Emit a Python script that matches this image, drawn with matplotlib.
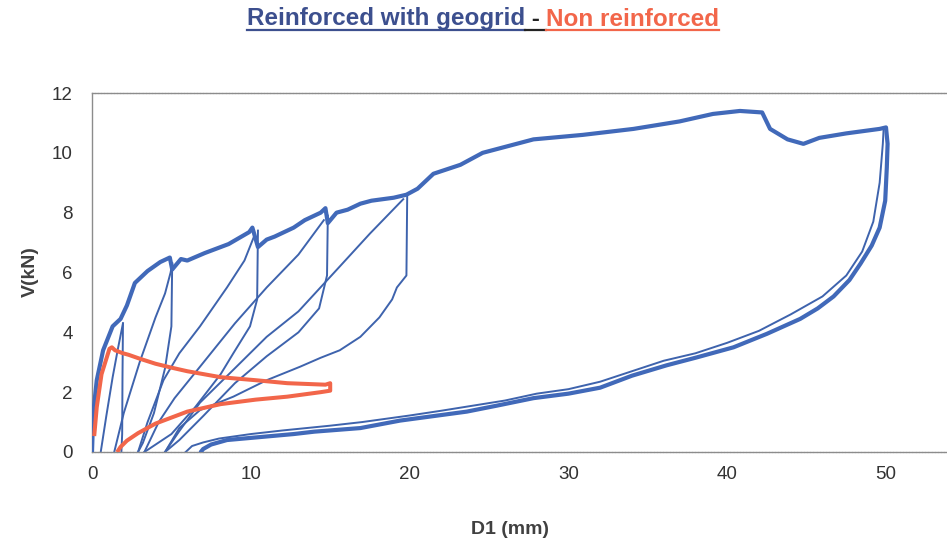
"""Cyclic load test: V (kN) vs D1 (mm), geogrid-reinforced vs non reinforced."""
import matplotlib
matplotlib.use("Agg")
import matplotlib.pyplot as plt
from matplotlib.lines import Line2D

# --- data ------------------------------------------------------------------------------------
# thick blue: monotonic envelope up to ~50 mm followed by the last unloading branch
env_d = [0, 0.08, 0.3, 0.7, 1.0, 1.3, 1.8, 2.2, 2.7, 3.5, 4.3, 4.9, 5.05, 5.6, 6.0, 7.1, 8.6,
         9.9, 10.1, 10.45, 11.0, 11.5, 12.7, 13.4, 14.4, 14.7, 14.85, 15.4, 16.1, 16.9, 17.6,
         19.0, 19.8, 20.5, 21.5, 23.2, 24.6, 27.8, 30.9, 34.1, 37.0, 39.1, 40.8, 42.2, 42.7,
         43.8, 44.8, 45.8, 47.5, 49.6, 50.0,
         50.1, 50.05, 49.95, 49.6, 49.1, 48.4, 47.7, 46.7, 45.7, 44.6, 42.5, 40.4, 38.0, 36.2,
         34.0, 32.0, 30.0, 27.8, 25.5, 23.6, 21.5, 19.4, 16.9, 14.0, 12.7, 10.6, 8.5, 7.5,
         7.0, 6.85]
env_v = [0, 1.3, 2.4, 3.4, 3.8, 4.2, 4.45, 4.9, 5.65, 6.05, 6.35, 6.5, 6.1, 6.45, 6.4, 6.65, 6.95,
         7.35, 7.5, 6.85, 7.1, 7.2, 7.5, 7.75, 8.0, 8.15, 7.65, 8.0, 8.1, 8.3, 8.4,
         8.5, 8.6, 8.8, 9.3, 9.6, 10.0, 10.45, 10.6, 10.8, 11.05, 11.3, 11.4, 11.35, 10.8,
         10.45, 10.3, 10.5, 10.65, 10.8, 10.85,
         10.3, 9.5, 8.4, 7.5, 6.9, 6.3, 5.75, 5.2, 4.8, 4.45, 3.95, 3.5, 3.15, 2.9,
         2.55, 2.15, 1.95, 1.8, 1.55, 1.35, 1.2, 1.05, 0.8, 0.68, 0.6, 0.5, 0.4, 0.25,
         0.1, 0]

# thin blue: unloading / reloading branches of the intermediate cycles
cyc_d = [
    [0.55, 0.9, 1.3, 1.65, 1.95],                                     # reload to cycle 1
    [1.95, 1.92, 1.9, 1.85],                                          # unload cycle 1
    [1.4, 2.0, 3.0, 4.0, 4.6, 4.95, 5.05],                            # reload to cycle 2
    [5.05, 5.0, 4.6, 3.9, 3.2, 2.9],                                  # unload cycle 2
    [2.9, 3.5, 4.5, 5.5, 6.8, 8.5, 9.6, 10.2],                        # reload to cycle 3
    [10.45, 10.4, 9.95, 8.9, 8.1, 6.5, 5.0, 3.3],                     # unload cycle 3
    [3.3, 4.2, 5.2, 6.8, 9.0, 11.0, 13.0, 14.6],                      # reload to cycle 4
    [14.85, 14.8, 14.3, 13.0, 11.0, 9.0, 7.0, 5.5, 4.6],              # unload cycle 4
    [4.6, 5.5, 6.8, 9.0, 11.0, 13.0, 15.6, 17.5, 19.6],               # reload to cycle 5
    [19.85, 19.8, 19.2, 18.9, 18.1, 16.9, 15.6, 14.4, 13.1, 11.0,
     8.9, 6.8, 5.5, 4.6],                                             # unload cycle 5
    [5.9, 6.3, 7.0, 8.0, 10.0, 12.0, 13.5, 15.0, 17.0, 20.0, 22.0, 24.0,
     26.0, 28.0, 30.0, 32.0, 34.0, 36.0, 38.0, 40.0, 42.0, 44.0, 46.0,
     47.5, 48.5, 49.2, 49.6, 49.8, 49.85],                            # reload to last cycle
]
cyc_v = [
    [0, 1.2, 2.5, 3.5, 4.3],
    [4.3, 2.5, 0.6, 0],
    [0, 1.3, 3.0, 4.5, 5.3, 6.0, 6.3],
    [6.3, 4.2, 2.8, 1.3, 0.3, 0],
    [0, 1.0, 2.4, 3.3, 4.2, 5.5, 6.4, 7.2],
    [7.4, 5.1, 4.2, 3.3, 2.6, 1.5, 0.6, 0],
    [0, 1.0, 1.8, 2.85, 4.3, 5.5, 6.6, 7.75],
    [7.9, 5.9, 4.8, 4.0, 3.2, 2.3, 1.2, 0.4, 0],
    [0, 0.7, 1.65, 2.8, 3.85, 4.7, 6.2, 7.3, 8.45],
    [8.6, 5.9, 5.5, 5.1, 4.5, 3.85, 3.4, 3.15, 2.85, 2.4,
     1.85, 1.4, 0.8, 0],
    [0, 0.2, 0.32, 0.45, 0.6, 0.72, 0.8, 0.88, 1.0, 1.22, 1.38, 1.55,
     1.72, 1.95, 2.1, 2.35, 2.7, 3.05, 3.3, 3.65, 4.05, 4.6, 5.2,
     5.9, 6.7, 7.7, 9.0, 10.3, 10.8],
]

# red: non reinforced specimen
red_d = [0.15, 0.3, 0.6, 1.1, 1.25, 1.45, 1.95, 2.3, 3.0, 4.0, 5.0, 6.0, 8.1, 10.3, 12.3, 14.7,
         15.0, 15.0, 14.4, 12.3, 10.3, 8.1, 6.0, 4.0, 2.9, 2.2, 1.8, 1.65]
red_v = [0.6, 1.5, 2.6, 3.45, 3.5, 3.4, 3.3, 3.25, 3.12, 2.95, 2.82, 2.7, 2.5, 2.4, 2.3, 2.25,
         2.3, 2.05, 2.0, 1.85, 1.75, 1.6, 1.35, 0.95, 0.63, 0.38, 0.17, 0.05]

x_ticks = [0, 10, 20, 30, 40, 50]
y_ticks = [0, 2, 4, 6, 8, 10, 12]

BLUE = "#4169B9"
BLUE_THIN = "#3E63AD"
RED = "#F2664A"
TITLE_BLUE = "#3C4F8E"

plt.rcParams.update({"font.family": ["Liberation Sans", "DejaVu Sans"]})

W, H = 947, 547
fig = plt.figure(figsize=(W / 100, H / 100), dpi=100)
# plot area: 0 mm at px 92, 15.88 px per mm; runs past the right edge like the reference crop
ax = fig.add_axes([92 / W, 1 - 452 / H, 60 * 15.88 / W, (452 - 93) / H])

for d, v in zip(cyc_d, cyc_v):
    ax.plot(d, v, color=BLUE_THIN, lw=1.4, solid_joinstyle="round", zorder=2)
ax.plot(env_d, env_v, color=BLUE, lw=3.0, solid_joinstyle="round", solid_capstyle="round", zorder=3)
ax.plot(red_d, red_v, color=RED, lw=2.9, solid_joinstyle="round", zorder=4)

ax.set_xlim(0, 60)
ax.set_ylim(0, 12)
ax.set_xticks(x_ticks)
ax.set_yticks(y_ticks)
ax.tick_params(length=0, labelsize=13.5, labelcolor="#333333")
ax.tick_params(axis="y", pad=14)
ax.tick_params(axis="x", pad=10)
for s in ("left", "top", "bottom"):
    ax.spines[s].set_color("#8c8c8c")
    ax.spines[s].set_linewidth(1.0)
ax.spines["top"].set_linestyle((0, (1.5, 0.8)))
ax.spines["bottom"].set_linestyle((0, (1.5, 0.8)))
ax.spines["right"].set_visible(False)

fig.text(510 / W, 1 - 530 / H, "D1 (mm)", ha="center", va="center",
         fontsize=14, fontweight="bold", color="#404040")
fig.text(30 / W, 1 - 272 / H, "V(kN)", ha="center", va="center", rotation=90,
         fontsize=14, fontweight="bold", color="#404040")

# title in three coloured pieces, each underlined
parts = [("Reinforced with geogrid", TITLE_BLUE), (" - ", "#222222"), ("Non reinforced", RED)]
tfont = dict(fontsize=17.5, fontweight="bold",
             family=["Liberation Sans Narrow", "Liberation Sans", "DejaVu Sans"])
texts = [fig.text(0, 1 - 19 / H, s, color=c, ha="left", va="center", **tfont) for s, c in parts]
fig.canvas.draw()
r = fig.canvas.get_renderer()
widths = [t.get_window_extent(r).width for t in texts]
x0 = 483 - sum(widths) / 2
for t, w, (_, c) in zip(texts, widths, parts):
    t.set_x(x0 / W)
    bb = t.get_window_extent(r)
    y_ul = (bb.y0 + 1) / H
    fig.add_artist(Line2D([x0 / W, (x0 + w) / W], [y_ul, y_ul], color=c, lw=1.6,
                          transform=fig.transFigure))
    x0 += w

fig.savefig("out.png", dpi=100, facecolor="white")
